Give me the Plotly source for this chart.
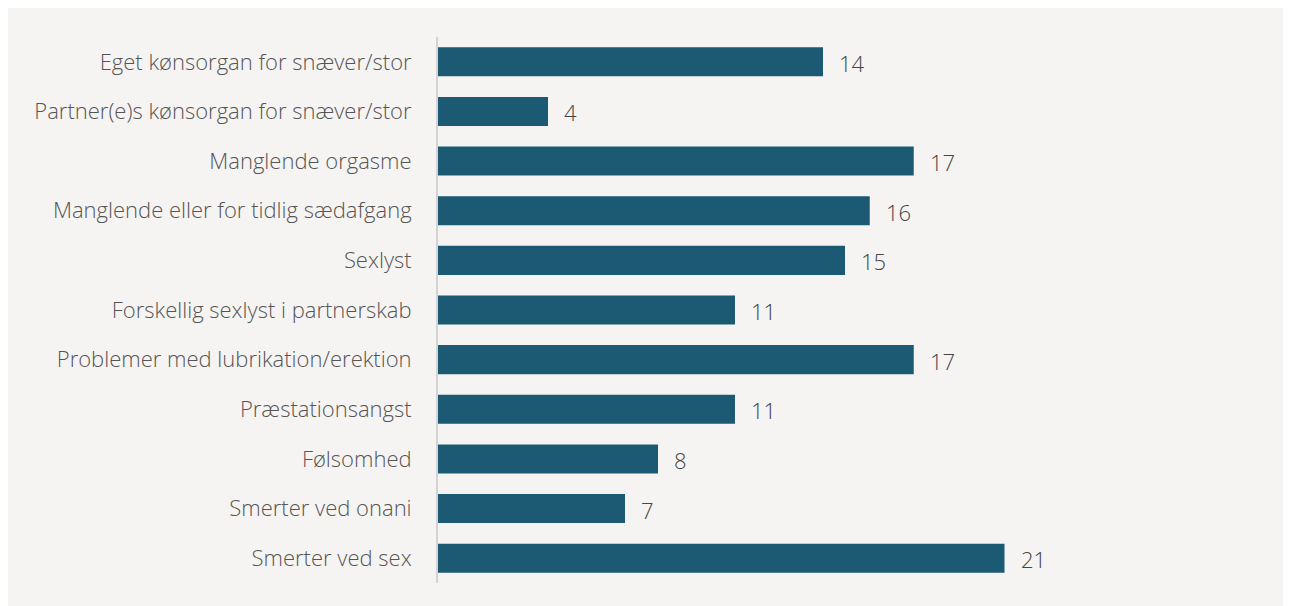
import plotly.graph_objects as go

categories = [
    "Eget kønsorgan for snæver/stor",
    "Partner(e)s kønsorgan for snæver/stor",
    "Manglende orgasme",
    "Manglende eller for tidlig sædafgang",
    "Sexlyst",
    "Forskellig sexlyst i partnerskab",
    "Problemer med lubrikation/erektion",
    "Præstationsangst",
    "Følsomhed",
    "Smerter ved onani",
    "Smerter ved sex",
]
values = [14.0, 4.0, 17.3, 15.7, 14.8, 10.8, 17.3, 10.8, 8.0, 6.8, 20.6]
value_labels = ["14", "4", "17", "16", "15", "11", "17", "11", "8", "7", "21"]

W, H = 1282, 600
ML, MR, MT, MB = 430, 27, 29, 25

FONT = "Open Sans"
BAR_COLOR = "#1b5a72"
BG = "#f5f4f2"

fig = go.Figure()
fig.add_trace(go.Bar(
    y=categories, x=values, orientation="h",
    marker=dict(color=BAR_COLOR, line=dict(width=0)),
    hoverinfo="skip",
))

for c, v, t in zip(categories, values, value_labels):
    fig.add_annotation(x=v, y=c, text=t, showarrow=False, xanchor="left",
                       xshift=14, yshift=-1,
                       font=dict(family=FONT, size=22, color="#444444", weight=300))

fig.update_layout(
    width=W, height=H,
    margin=dict(l=ML, r=MR, t=MT, b=MB),
    paper_bgcolor=BG, plot_bgcolor=BG,
    bargap=0.415, showlegend=False,
    font=dict(family=FONT),
    xaxis=dict(range=[0, 30], showgrid=False, zeroline=False, showticklabels=False,
               showline=False, fixedrange=True),
    yaxis=dict(categoryorder="array", categoryarray=categories, autorange="reversed",
               showgrid=False, zeroline=False, showline=True, linecolor="#d3d3d3",
               linewidth=2, ticks="", ticklabelstandoff=20,
               tickfont=dict(family=FONT, size=22, color="#555555", weight=300)),
)

fig.write_html("out.html")
